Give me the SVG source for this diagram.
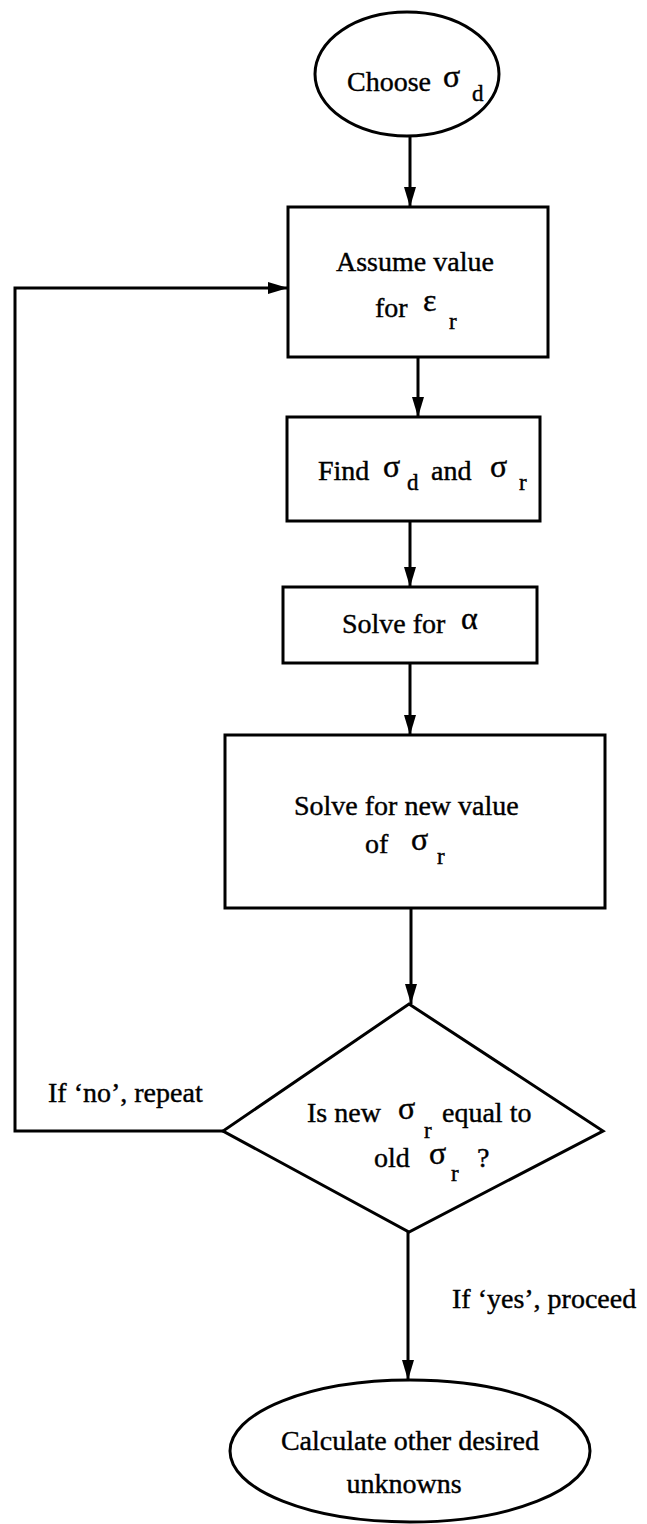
<svg xmlns="http://www.w3.org/2000/svg" width="647" height="1524" viewBox="0 0 647 1524">
<style>
.s{fill:#fff;stroke:#000;stroke-width:3}
.c{fill:none;stroke:#000;stroke-width:3}
text{font-family:"Liberation Serif","Times New Roman",serif;font-size:28px;fill:#000;stroke:#000;stroke-width:0.4}
.g{font-size:32px}
.sub{font-size:23px}
</style>
<defs>
<marker id="ah" markerUnits="userSpaceOnUse" markerWidth="20" markerHeight="14" viewBox="0 0 20 14" refX="20" refY="7" orient="auto">
<path d="M0,1 L20,7 L0,13 Z" fill="#000"/>
</marker>
</defs>
<rect width="647" height="1524" fill="#fff"/>
<g id="connectors">
<line class="c" x1="410" y1="137" x2="410" y2="207" marker-end="url(#ah)"/>
<line class="c" x1="418" y1="357" x2="418" y2="417" marker-end="url(#ah)"/>
<line class="c" x1="410" y1="521" x2="410" y2="587" marker-end="url(#ah)"/>
<line class="c" x1="410" y1="663" x2="410" y2="735" marker-end="url(#ah)"/>
<line class="c" x1="411" y1="908" x2="411" y2="1004" marker-end="url(#ah)"/>
<line class="c" x1="408" y1="1232" x2="408" y2="1380" marker-end="url(#ah)"/>
<polyline class="c" points="223,1131 15,1131 15,288 288,288" marker-end="url(#ah)"/>
<text x="48" y="1102">If ‘no’, repeat</text>
<text x="452" y="1308">If ‘yes’, proceed</text>
</g>
<g id="start">
<ellipse class="s" cx="407" cy="74" rx="92" ry="62"/>
<text x="347" y="91">Choose</text>
<text class="g" x="443" y="87">σ</text>
<text class="sub" x="472" y="101">d</text>
</g>
<g id="assume">
<rect class="s" x="288" y="207" width="260" height="150"/>
<text x="336" y="271">Assume value</text>
<text x="375" y="317">for</text>
<text class="g" x="423" y="311">ε</text>
<text class="sub" x="449" y="329">r</text>
</g>
<g id="find">
<rect class="s" x="287" y="417" width="253" height="104"/>
<text x="318" y="480">Find</text>
<text class="g" x="383" y="477">σ</text>
<text class="sub" x="407" y="490">d</text>
<text x="431" y="480">and</text>
<text class="g" x="490" y="477">σ</text>
<text class="sub" x="519" y="490">r</text>
</g>
<g id="solve-alpha">
<rect class="s" x="283" y="587" width="254" height="76"/>
<text x="342" y="633">Solve for</text>
<text class="g" x="461" y="629">α</text>
</g>
<g id="solve-new">
<rect class="s" x="225" y="735" width="380" height="173"/>
<text x="294" y="815">Solve for new value</text>
<text x="365" y="853">of</text>
<text class="g" x="411" y="850">σ</text>
<text class="sub" x="437" y="864">r</text>
</g>
<g id="decision">
<polygon class="s" points="409,1004 603,1131 409,1232 223,1131"/>
<text x="307" y="1122">Is new</text>
<text class="g" x="398" y="1119">σ</text>
<text class="sub" x="424" y="1138">r</text>
<text x="442" y="1122">equal to</text>
<text x="374" y="1167">old</text>
<text class="g" x="429" y="1164">σ</text>
<text class="sub" x="451" y="1181">r</text>
<text x="477" y="1167">?</text>
</g>
<g id="end">
<ellipse class="s" cx="410" cy="1451" rx="180" ry="71"/>
<text x="410" y="1450" text-anchor="middle">Calculate other desired</text>
<text x="404" y="1493" text-anchor="middle">unknowns</text>
</g>
</svg>
